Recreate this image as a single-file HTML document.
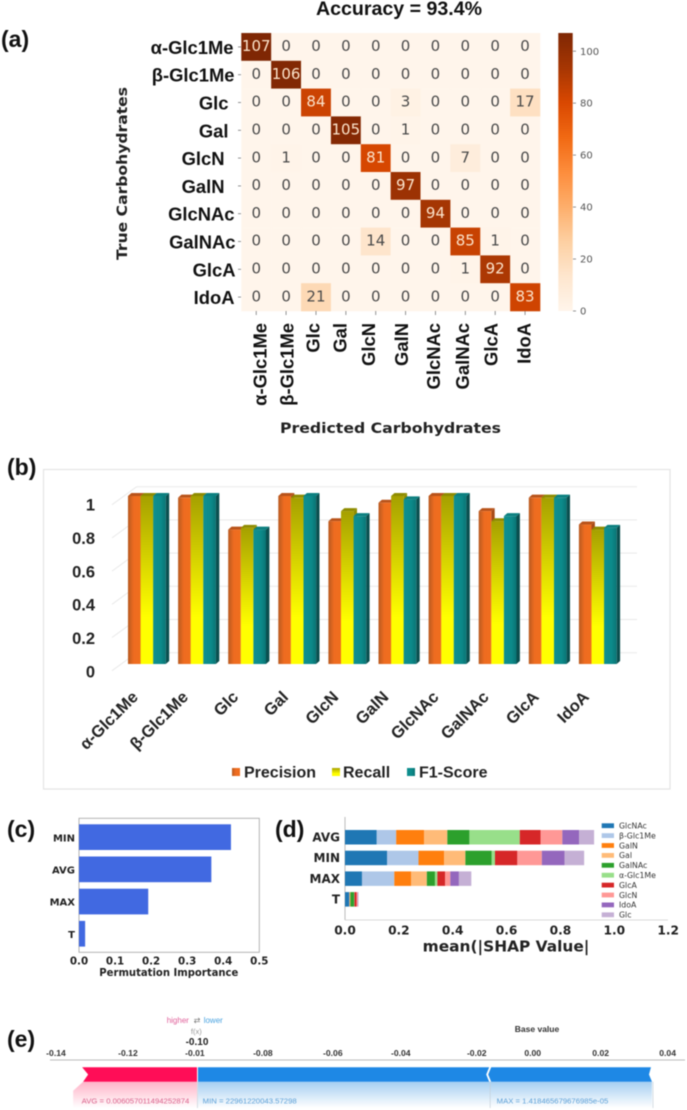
<!DOCTYPE html>
<html lang="en">
<head>
<meta charset="utf-8">
<title>Carbohydrate classification results</title>
<style>
html,body{margin:0;padding:0;background:#fff;}
svg{display:block;filter:blur(0.4px);}
text{font-family:"Liberation Sans",sans-serif;}
.dv{font-family:"DejaVu Sans",sans-serif;}
.plabel{font-weight:bold;font-size:23px;fill:#111;}
</style>
</head>
<body>
<svg id="fig" xmlns="http://www.w3.org/2000/svg" width="687" height="1110" viewBox="0 0 687 1110">
<defs>
<linearGradient id="gradPrecision" x1="0" y1="0" x2="1" y2="0"><stop offset="0" stop-color="#b85a20"/><stop offset="0.45" stop-color="#ee6c20"/><stop offset="1" stop-color="#f06e1e"/></linearGradient>
<linearGradient id="gradRecall" x1="0" y1="0" x2="0" y2="1"><stop offset="0" stop-color="#a6a000"/><stop offset="0.5" stop-color="#e6e300"/><stop offset="0.72" stop-color="#ffff00"/><stop offset="1" stop-color="#ffff00"/></linearGradient>
<linearGradient id="gradF1" x1="0" y1="0" x2="1" y2="0"><stop offset="0" stop-color="#0f9090"/><stop offset="0.6" stop-color="#0c8a8a"/><stop offset="1" stop-color="#0a7474"/></linearGradient>
<linearGradient id="gradPink" x1="0" y1="0" x2="0" y2="1"><stop offset="0" stop-color="#ffb3c8"/><stop offset="1" stop-color="#ffffff"/></linearGradient>
<linearGradient id="gradBlue" x1="0" y1="0" x2="0" y2="1"><stop offset="0" stop-color="#a5cff2"/><stop offset="1" stop-color="#ffffff"/></linearGradient>
<linearGradient id="gradCbar" x1="0" y1="1" x2="0" y2="0"></linearGradient>
</defs>

<text class="plabel" x="1" y="47">(a)</text>
<text class="plabel" x="7" y="475">(b)</text>
<text class="plabel" x="7" y="837">(c)</text>
<text class="plabel" x="275" y="837">(d)</text>
<text class="plabel" x="7" y="1047">(e)</text>

<g id="panelA">
<text x="399" y="15" text-anchor="middle" font-size="19.6" font-weight="bold" fill="#111">Accuracy = 93.4%</text>
<text class="dv" transform="translate(127 260) rotate(-90)" font-size="14.5" font-weight="bold" fill="#222" textLength="173" lengthAdjust="spacingAndGlyphs">True Carbohydrates</text>
<text class="dv" x="280" y="433" font-size="14.5" font-weight="bold" fill="#222" textLength="221" lengthAdjust="spacingAndGlyphs">Predicted Carbohydrates</text>
</g>

<g id="panelB">
<rect x="43.5" y="469.5" width="626.5" height="319.5" fill="#fff" stroke="#e4e4e4" stroke-width="1.2"/>
<g>
<rect x="232" y="768" width="8" height="8" fill="url(#gradPrecision)"/>
<text x="244" y="777.5" font-size="16" font-weight="bold" fill="#222">Precision</text>
<rect x="332" y="768" width="8" height="8" fill="url(#gradRecall)"/>
<text x="343" y="777.5" font-size="16" font-weight="bold" fill="#222">Recall</text>
<rect x="407" y="768" width="8" height="8" fill="url(#gradF1)"/>
<text x="419" y="777.5" font-size="16" font-weight="bold" fill="#222">F1-Score</text>
</g>
</g>

<g id="panelC">
<text class="dv" x="99.3" y="976" font-size="10.3" font-weight="bold" fill="#222" textLength="139" lengthAdjust="spacingAndGlyphs">Permutation Importance</text>
</g>

<g id="panelD">
<text class="dv" x="422.7" y="951.5" font-size="15" font-weight="bold" fill="#222" textLength="166.7" lengthAdjust="spacingAndGlyphs">mean(|SHAP Value|</text>
</g>

<g id="panelE">
<text x="166.7" y="1023" font-size="8" fill="#e0609a">higher</text>
<text class="dv" x="197" y="1023" text-anchor="middle" font-size="8" fill="#777">⇄</text>
<text x="203.7" y="1023" font-size="8" fill="#4aa3e0">lower</text>
<text x="196.3" y="1034" text-anchor="middle" font-size="7.5" fill="#999">f(x)</text>
<text x="197" y="1045" text-anchor="middle" font-size="10" font-weight="bold" fill="#222">-0.10</text>
<text x="537" y="1032" text-anchor="middle" font-size="8.5" font-weight="bold" fill="#333">Base value</text>
</g>

<script>
// ---------- (a) confusion matrix data ----------
const carbs = ["α-Glc1Me","β-Glc1Me","Glc","Gal","GlcN","GalN","GlcNAc","GalNAc","GlcA","IdoA"];
const matrixRow0 = [107,0,0,0,0,0,0,0,0,0];
const matrixRow1 = [0,106,0,0,0,0,0,0,0,0];
const matrixRow2 = [0,0,84,0,0,3,0,0,0,17];
const matrixRow3 = [0,0,0,105,0,1,0,0,0,0];
const matrixRow4 = [0,1,0,0,81,0,0,7,0,0];
const matrixRow5 = [0,0,0,0,0,97,0,0,0,0];
const matrixRow6 = [0,0,0,0,0,0,94,0,0,0];
const matrixRow7 = [0,0,0,0,14,0,0,85,1,0];
const matrixRow8 = [0,0,0,0,0,0,0,1,92,0];
const matrixRow9 = [0,0,21,0,0,0,0,0,0,83];
const matrix = [matrixRow0,matrixRow1,matrixRow2,matrixRow3,matrixRow4,matrixRow5,matrixRow6,matrixRow7,matrixRow8,matrixRow9];
const colorbarTicks = [0,20,40,60,80,100];
const colorbarMax = 107;

// ---------- (b) metrics data ----------
const precision = [1.00,0.99,0.80,1.00,0.85,0.96,1.00,0.91,0.99,0.83];
const recall    = [1.00,1.00,0.81,0.99,0.91,1.00,1.00,0.85,0.99,0.80];
const f1Score   = [1.00,1.00,0.80,1.00,0.88,0.98,1.00,0.88,0.99,0.81];
const metricTicks = [0,0.2,0.4,0.6,0.8,1];
const metricTickLabels = ["0","0.2","0.4","0.6","0.8","1"];

// ---------- (c) permutation importance data ----------
const permFeatures = ["MIN","AVG","MAX","T"];
const permValues = [0.4214,0.367,0.192,0.017];
const permTicks = [0,0.1,0.2,0.3,0.4,0.5];

// ---------- (d) SHAP summary data ----------
const shapFeatures = ["AVG","MIN","MAX","T"];
const shapClasses = ["GlcNAc","β-Glc1Me","GalN","Gal","GalNAc","α-Glc1Me","GlcA","GlcN","IdoA","Glc"];
const shapAvg = [0.118,0.072,0.104,0.086,0.082,0.187,0.077,0.081,0.062,0.056];
const shapMin = [0.156,0.117,0.095,0.079,0.098,0.012,0.083,0.091,0.084,0.073];
const shapMax = [0.063,0.120,0.063,0.058,0.030,0.009,0.029,0.019,0.032,0.046];
const shapT   = [0.016,0.001,0.002,0.001,0.014,0.001,0.008,0.004,0.001,0.002];
const shapRows = [shapAvg,shapMin,shapMax,shapT];
const shapTicks = [0,0.2,0.4,0.6,0.8,1.0,1.2];

// ---------- (e) force plot data ----------
const forceTicks = [-0.14,-0.12,-0.10,-0.08,-0.06,-0.04,-0.02,0,0.02,0.04];
const forceTickLabels = ["-0.14","-0.12","-0.01","-0.08","-0.06","-0.04","-0.02","0.00","0.02","0.04"];
const forceBounds = [-0.1323,-0.0988,-0.0131,0.0351];

// ---------- palettes and layout constants (not data) ----------
const orangesMap = ["#fff5eb","#fee6ce","#fdd0a2","#fdae6b","#fd8d3c","#f16913","#d94801","#a63603","#7f2704"];
const tab20 = ["#1f77b4","#aec7e8","#ff7f0e","#ffbb78","#2ca02c","#98df8a","#d62728","#ff9896","#9467bd","#c5b0d5"];
const rowLabelInset = [1,0,6,6,10,10,0,-1,-1,0];
const colLabelNudge = [4,1,-3,-6,-7,-4,-2,-3,-4,-1];
const forceLabelNudge = [-1,3,2,2,4,4,12,0,0,-1];

const NS = "http://www.w3.org/2000/svg";
function mk(parent, tag, attrs, txt){
  const n = document.createElementNS(NS, tag);
  for(const k in attrs){ n.setAttribute(k, attrs[k]); }
  if(txt !== undefined){ n.textContent = txt; }
  parent.appendChild(n);
  return n;
}
function hex2rgb(h){ return [1,3,5].map(function(i){ return parseInt(h.substr(i,2),16); }); }
function oranges(t){
  const p = Math.max(0,Math.min(1,t))*(orangesMap.length-1);
  const i = Math.min(orangesMap.length-2,Math.floor(p));
  const a = hex2rgb(orangesMap[i]), b = hex2rgb(orangesMap[i+1]), f = p-i;
  return "rgb("+a.map(function(v,k){ return Math.round(v+(b[k]-v)*f); }).join(",")+")";
}

// ---------- draw (a) ----------
(function(){
  const g = document.getElementById("panelA");
  const L = 241.3, T = 33, cw = 29.87, ch = 27.8;
  const xA = function(i){ return L + cw*i; };
  const yA = function(i){ return T + ch*i; };
  const yCbar = function(v){ return 311 - v*(278/colorbarMax); };
  matrix.forEach(function(row, r){
    row.forEach(function(v, c){
      const cell = mk(g,"rect",{x:xA(c),y:yA(r),width:cw+0.3,height:ch+0.3,fill:oranges(v/colorbarMax)});
      
      
    });
  });
  matrix.forEach(function(row, r){
    row.forEach(function(v, c){
      const t = mk(g,"text",{class:"dv",x:xA(c)+cw/2,y:yA(r)+ch/2+4.2,"text-anchor":"middle","font-size":15,fill:v/colorbarMax>0.5?"#fbe3cb":"#4a4a4a"},String(v));
      
      
    });
  });
  carbs.forEach(function(name, i){
    const tk = mk(g,"line",{x1:238,x2:241,y1:yA(i)+ch/2,y2:yA(i)+ch/2,stroke:"#777","stroke-width":0.8});
    
    
    const lab = mk(g,"text",{x:234.5-rowLabelInset[i],y:yA(i)+ch/2+7,"text-anchor":"end","font-size":18.4,"font-weight":"bold",fill:"#111"},name);
    
    
    const tk2 = mk(g,"line",{x1:xA(i)+cw/2,x2:xA(i)+cw/2,y1:311,y2:315,stroke:"#777","stroke-width":0.8});
    
    
    const px = xA(i)+cw/2+colLabelNudge[i]+6.5;
    const lab2 = mk(g,"text",{transform:"translate("+px+" 323) rotate(-90)","text-anchor":"end","font-size":18.4,"font-weight":"bold",fill:"#111"},name);
    
    
  });
  const grad = document.getElementById("gradCbar");
  orangesMap.forEach(function(col, i){
    mk(grad,"stop",{offset:i/(orangesMap.length-1),"stop-color":col});
  });
  const cb = mk(g,"rect",{x:558.3,y:yCbar(colorbarMax),width:14.4,height:yCbar(0)-yCbar(colorbarMax),fill:"url(#gradCbar)"});
  
  
  colorbarTicks.forEach(function(v){
    const tk = mk(g,"line",{x1:573,x2:576,y1:yCbar(v),y2:yCbar(v),stroke:"#777","stroke-width":0.8});
    
    
    const t = mk(g,"text",{class:"dv",x:580,y:yCbar(v)+3.6,"font-size":10,fill:"#555"},String(v));
    
    
  });
})();

// ---------- draw (b) ----------
(function(){
  const g = document.getElementById("panelB");
  const x0 = 128, pitch = 50.1, bw = 12.6, dx = 3.4, dy = 3;
  const yBar = function(v){ return 664 - 168*v; };
  const yGrid = function(v){ return 652.7 - 166*v; };
  const yLabel = function(v){ return 677.4 - 166.7*v; };
  metricTicks.forEach(function(v, i){
    const a = mk(g,"line",{x1:136.7,x2:637,y1:yGrid(v),y2:yGrid(v),stroke:"#e9e9e9","stroke-width":1});
    
    
    const b = mk(g,"line",{x1:112,x2:136.7,y1:yGrid(v)+18,y2:yGrid(v),stroke:"#e9e9e9","stroke-width":1});
    
    
    const t = mk(g,"text",{x:95,y:yLabel(v),"text-anchor":"end","font-size":16.5,"font-weight":"bold",fill:"#222"},metricTickLabels[i]);
    
    
  });
  const series = [
    {name:"precision",vals:precision,fill:"url(#gradPrecision)",top:"#b9531a",side:"#a84c18"},
    {name:"recall",vals:recall,fill:"url(#gradRecall)",top:"#8f8c00",side:"#8f8c00"},
    {name:"f1-score",vals:f1Score,fill:"url(#gradF1)",top:"#0c8080",side:"#0a4f4f"}
  ];
  carbs.forEach(function(name, c){
    series.forEach(function(s, k){
      const x = x0 + pitch*c + bw*k, y = yBar(s.vals[c]), b = yBar(0);
      const side = mk(g,"polygon",{points:[[x+bw,y],[x+bw+dx,y-dy],[x+bw+dx,b-dy],[x+bw,b]].map(String).join(" "),fill:s.side});
      
      
      const top = mk(g,"polygon",{points:[[x,y],[x+dx,y-dy],[x+bw+dx,y-dy],[x+bw,y]].map(String).join(" "),fill:s.top});
      
      
      const face = mk(g,"rect",{x:x,y:y,width:bw,height:b-y,fill:s.fill});
      
      
    });
    const cx = x0 + pitch*c + 19 - 8;
    const lab = mk(g,"text",{transform:"translate("+cx+" 698) rotate(-45)","text-anchor":"end","font-size":16.5,"font-weight":"bold",fill:"#222"},name);
    
    
  });
})();

// ---------- draw (c) ----------
(function(){
  const g = document.getElementById("panelC");
  const xC = function(v){ return 79 + 360.6*v; };
  const yC = function(i){ return 824.3 + 32.2*i; };
  const frame = mk(g,"rect",{x:79,y:818.3,width:180.3,height:134,fill:"#fff",stroke:"#aaa","stroke-width":0.9});
  
  
  permValues.forEach(function(v, i){
    const r = mk(g,"rect",{x:xC(0),y:yC(i),width:xC(v)-xC(0),height:25.7,fill:"#4169e1"});
    
    
    const t = mk(g,"text",{class:"dv",x:75,y:yC(i)+17,"text-anchor":"end","font-size":10,"font-weight":"bold",fill:"#222"},permFeatures[i]);
    
    
  });
  permTicks.forEach(function(v){
    const t = mk(g,"text",{class:"dv",x:xC(v),y:964.5,"text-anchor":"middle","font-size":10.3,"font-weight":"bold",fill:"#222"},v.toFixed(1));
    
    
  });
})();

// ---------- draw (d) ----------
(function(){
  const g = document.getElementById("panelD");
  const xD = function(v){ return 345 + 269.3*v; };
  const yD = function(i){ return 830 + 20.7*i; };
  const spine = mk(g,"line",{x1:345,x2:345,y1:817,y2:920,stroke:"#aaa","stroke-width":0.8});
  
  
  const base = mk(g,"line",{x1:345,x2:668,y1:920,y2:920,stroke:"#ccc","stroke-width":0.8});
  
  
  shapRows.forEach(function(row, i){
    let acc = 0;
    row.forEach(function(v, k){
      const r = mk(g,"rect",{x:xD(acc),y:yD(i),width:xD(acc+v)-xD(acc),height:14.5,fill:tab20[k]});
      
      
      acc += v;
    });
    const t = mk(g,"text",{class:"dv",x:340,y:yD(i)+11.5,"text-anchor":"end","font-size":12,"font-weight":"bold",fill:"#222"},shapFeatures[i]);
    
    
  });
  shapTicks.forEach(function(v){
    const t = mk(g,"text",{class:"dv",x:xD(v),y:934.5,"text-anchor":"middle","font-size":12.2,"font-weight":"bold",fill:"#222"},v.toFixed(1));
    
    
  });
  shapClasses.forEach(function(name, k){
    const y = 825.7 + 9.9*k;
    const s = mk(g,"rect",{x:601.7,y:y-2.4,width:12.3,height:4.8,fill:tab20[k]});
    
    
    const t = mk(g,"text",{class:"dv",x:619,y:y+2.8,"font-size":7.8,fill:"#333"},name);
    
    
  });
})();

// ---------- draw (e) ----------
(function(){
  const g = document.getElementById("panelE");
  const xE = function(v){ return 532.7 + 3398*v; };
  const axis = mk(g,"line",{x1:50,x2:685,y1:1060,y2:1060,stroke:"#bbb","stroke-width":1});
  
  
  forceTicks.forEach(function(v, i){
    const t = mk(g,"text",{x:xE(v)+forceLabelNudge[i],y:1056,"text-anchor":"middle","font-size":8.6,"font-weight":"bold",fill:"#333"},forceTickLabels[i]);
    
    
  });
  const a = xE(forceBounds[0]), b = xE(forceBounds[1]), c = xE(forceBounds[2]), d = xE(forceBounds[3]);
  const top = 1067.3, mid = 1074.5, bot = 1081.7, end = 1108;
  const fadeP = mk(g,"polygon",{points:[a,bot,a-10,bot+9,a-10,end,b,end,b,bot].join(" "),fill:"url(#gradPink)"});
  
  
  const fadeB = mk(g,"rect",{x:b+1,y:bot,width:d-b-1,height:end-bot,fill:"url(#gradBlue)"});
  
  
  const pink = mk(g,"polygon",{points:[a-1,top,b,top,b,bot,a,bot,a+5,mid].join(" "),fill:"#ff0d57"});
  
  
  const blue1 = mk(g,"polygon",{points:[b+1,top,c+1,top,c-2,mid,c+1,bot,b+1,bot].join(" "),fill:"#1e88e5"});
  
  
  const blue2 = mk(g,"polygon",{points:[c+3,top,d-1,top,d-3,mid,d,bot,c+3,bot,c,mid].join(" "),fill:"#1e88e5"});
  
  
  [b+0.5,c+2,d+1].forEach(function(x){
    const l = mk(g,"line",{x1:x,x2:x,y1:bot,y2:end,stroke:"#c4cfd8","stroke-width":0.7});
    
    
  });
  const t1 = mk(g,"text",{x:81.7,y:1103.3,"font-size":7.5,fill:"#d9608a",textLength:107.6,lengthAdjust:"spacingAndGlyphs"},"AVG = 0.006057011494252874");
  
  
  const t2 = mk(g,"text",{x:202.7,y:1103.3,"font-size":7.5,fill:"#5b9fd6",textLength:94,lengthAdjust:"spacingAndGlyphs"},"MIN = 22961220043.57298");
  
  
  const t3 = mk(g,"text",{x:496.7,y:1103.3,"font-size":7.5,fill:"#5b9fd6",textLength:111.6,lengthAdjust:"spacingAndGlyphs"},"MAX = 1.418465679676985e-05");
  
  
})();
</script>
</svg>
</body>
</html>
